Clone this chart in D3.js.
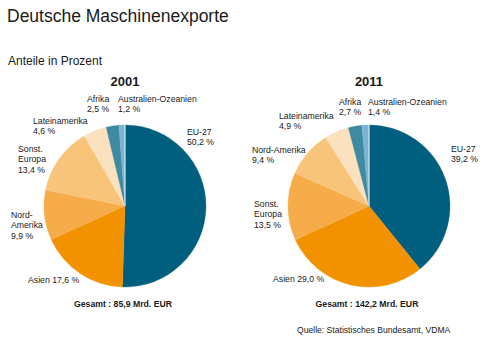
<!DOCTYPE html>
<html><head><meta charset="utf-8">
<script src="https://cdn.jsdelivr.net/npm/d3@7"></script>
<style>
body{margin:0;background:#fff;}
text{font-family:"Liberation Sans",Arial,sans-serif;fill:#1a1a1a;}
</style></head>
<body>
<svg id="c" width="500" height="341"></svg>
<script>
// Data
const years = ["2001", "2011"];
const totals = ["Gesamt : 85,9 Mrd. EUR", "Gesamt : 142,2 Mrd. EUR"];
const categories2001 = ["EU-27", "Asien", "Nord-Amerika", "Sonst. Europa", "Lateinamerika", "Afrika", "Australien-Ozeanien"];
const values2001 = [50.2, 17.6, 9.9, 13.4, 4.6, 2.5, 1.2];
const categories2011 = ["EU-27", "Asien", "Sonst. Europa", "Nord-Amerika", "Lateinamerika", "Afrika", "Australien-Ozeanien"];
const values2011 = [39.2, 29.0, 13.5, 9.4, 4.9, 2.7, 1.4];
const sliceColors = ["#005f7e", "#f39200", "#f6ac48", "#f8c47a", "#fbe1bd", "#3f8aa3", "#7ab4d0"];

// Label layout (lines, x, first baseline) per pie
const labels2001 = [
  {lines:["EU-27","50,2 %"], x:187, y:135},
  {lines:["Asien 17,6 %"], x:28, y:283},
  {lines:["Nord-","Amerika","9,9 %"], x:11, y:218},
  {lines:["Sonst.","Europa","13,4 %"], x:18, y:152},
  {lines:["Lateinamerika","4,6 %"], x:33, y:124},
  {lines:["Afrika","2,5 %"], x:87, y:102},
  {lines:["Australien-Ozeanien","1,2 %"], x:118, y:102}
];
const labels2011 = [
  {lines:["EU-27","39,2 %"], x:451, y:152},
  {lines:["Asien 29,0 %"], x:273, y:282},
  {lines:["Sonst.","Europa","13,5 %"], x:254, y:207},
  {lines:["Nord-Amerika","9,4 %"], x:252, y:153},
  {lines:["Lateinamerika","4,9 %"], x:279, y:119},
  {lines:["Afrika","2,7 %"], x:339, y:105},
  {lines:["Australien-Ozeanien","1,4 %"], x:368, y:105}
];

const svg = d3.select("#c");
svg.append("text").attr("x",7).attr("y",22).attr("font-size",17.5).text("Deutsche Maschinenexporte");
svg.append("text").attr("x",8).attr("y",65).attr("font-size",12).text("Anteile in Prozent");

const pies = [
  {year:years[0], total:totals[0], cats:categories2001, vals:values2001, labels:labels2001, cx:125, cy:206},
  {year:years[1], total:totals[1], cats:categories2011, vals:values2011, labels:labels2011, cx:369, cy:206}
];
const r = 81;
const pie = d3.pie().sort(null).value(d => d.v);
const arc = d3.arc().innerRadius(0).outerRadius(r);

pies.forEach(p => {
  const g = svg.append("g").attr("transform", `translate(${p.cx},${p.cy})`);
  const data = p.cats.map((c,i) => ({c, v:p.vals[i], i}));
  g.selectAll("path").data(pie(data)).join("path")
    .attr("d", arc)
    .attr("fill", d => sliceColors[d.data.i])
    .attr("stroke", d => sliceColors[d.data.i])
    .attr("stroke-width", 0.4);
  // thin white separator at top
  g.append("line").attr("x1",0).attr("y1",0).attr("x2",0).attr("y2",-r)
    .attr("stroke","#fff").attr("stroke-width",0.9);
  svg.append("text").attr("x",p.cx).attr("y",86).attr("text-anchor","middle")
    .attr("font-size",13).attr("font-weight","bold").text(p.year);
  svg.append("text").attr("x",p.cx-2).attr("y",307).attr("text-anchor","middle")
    .attr("font-size",8.7).attr("font-weight","bold").text(p.total);
  p.labels.forEach(l => {
    const t = svg.append("text").attr("x",l.x).attr("y",l.y).attr("font-size",8.7);
    l.lines.forEach((ln,k) => t.append("tspan").attr("x",l.x).attr("dy",k===0?0:10.3).text(ln));
  });
});

svg.append("text").attr("x",297).attr("y",333).attr("font-size",8.6).text("Quelle: Statistisches Bundesamt, VDMA");
</script>
</body></html>
